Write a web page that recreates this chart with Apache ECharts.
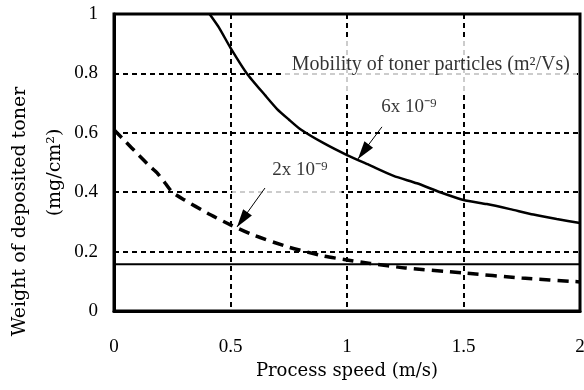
<!DOCTYPE html>
<html lang="en">
<head>
    <meta charset="UTF-8">
    <title>Toner deposition</title>
</head>
<body style="margin:0;background-color:#fff">

<div id="container" style="width:584px;height:390px"></div>

<script type="text/javascript" src="https://cdn.jsdelivr.net/npm/echarts@6/dist/echarts.min.js"></script>

<script type="text/javascript">
    // mobility 6x10^-9 (solid curve)
    var speed6 = [0.41, 0.45, 0.5, 0.57, 0.65, 0.7, 0.75, 0.8, 0.9, 1.0, 1.1, 1.2, 1.3, 1.4, 1.5, 1.6, 1.7, 1.8, 1.9, 2.0]
    var weight6 = [1.0, 0.955, 0.886, 0.80, 0.725, 0.68, 0.645, 0.612, 0.565, 0.525, 0.49, 0.455, 0.43, 0.40, 0.374, 0.36, 0.343, 0.325, 0.31, 0.296]
    // mobility 2x10^-9 (dashed curve)
    var speed2 = [0, 0.05, 0.1, 0.15, 0.185, 0.22, 0.25, 0.3, 0.4, 0.5, 0.6, 0.75, 0.9, 1.0, 1.1, 1.25, 1.5, 1.75, 2.0]
    var weight2 = [0.61, 0.57, 0.53, 0.49, 0.465, 0.43, 0.40, 0.375, 0.33, 0.29, 0.255, 0.215, 0.185, 0.172, 0.16, 0.145, 0.128, 0.111, 0.098]
    // horizontal reference level
    var levelSpeed = [0, 2]
    var levelWeight = [0.157, 0.157]

    var xTicks = [0, 0.5, 1, 1.5, 2]
    var yTicks = [0, 0.2, 0.4, 0.6, 0.8, 1]

    // annotation texts and where they sit (data space)
    var noteTexts = ['Mobility of toner particles (m²/Vs)', '6x 10⁻⁹', '2x 10⁻⁹']
    var notePos = [[1.36, 0.83], [1.266, 0.687], [0.742, 0.475]]
    var arrowFrom = [[1.15, 0.62], [0.648, 0.414]]
    var arrowTo = [[1.047, 0.512], [0.528, 0.283]]

    function zip(xs, ys) {
        return xs.map(function (x, i) { return [x, ys[i]] })
    }

    var font = '"Liberation Serif", "Times New Roman", serif'
    var titleFont = '"DejaVu Serif", serif'
    var gridDash = {color: '#000', width: 2, type: [5, 4]}
    // 细长实心三角箭头, 尖端在图形中心
    var arrowHead = 'path://M0,0 M40,40 M20,20 L26,40 L14,40 Z'

    var dom = document.getElementById("container");
    var myChart = echarts.init(dom);

    var option = {
        animation: false,
        grid: {
            left: 114,
            right: 4,
            top: 14,
            bottom: 79,
            outerBoundsMode: 'none',
            show: true,
            borderColor: '#000',
            borderWidth: 3
        },
        xAxis: {
            type: 'value',
            min: xTicks[0],
            max: xTicks[xTicks.length - 1],
            interval: 0.5,
            name: 'Process speed (m/s)',
            nameLocation: 'middle',
            nameGap: 48,
            nameTextStyle: {fontFamily: titleFont, fontSize: 18, color: '#000'},
            axisLine: {lineStyle: {color: '#000', width: 3}},
            axisTick: {show: false},
            axisLabel: {margin: 27, fontFamily: font, fontSize: 19, color: '#000'},
            splitLine: {lineStyle: gridDash}
        },
        yAxis: {
            type: 'value',
            min: yTicks[0],
            max: yTicks[yTicks.length - 1],
            interval: 0.2,
            name: '{a|Weight of deposited toner}\n{b|(mg/cm²)}',
            nameLocation: 'middle',
            nameRotate: 90,
            nameGap: 41,
            nameMoveOverlap: false,
            nameTextStyle: {
                fontFamily: titleFont, fontSize: 19, color: '#000', lineHeight: 35,
                padding: [0, 98, 0, 0],
                rich: {
                    a: {fontFamily: titleFont, fontSize: 19, color: '#000', lineHeight: 35},
                    b: {fontFamily: titleFont, fontSize: 19, color: '#000', lineHeight: 35, padding: [0, 0, 0, 78]}
                }
            },
            axisLine: {lineStyle: {color: '#000', width: 3}},
            axisTick: {show: false},
            axisLabel: {margin: 16, fontFamily: font, fontSize: 19, color: '#000'},
            splitLine: {lineStyle: gridDash}
        },
        series: [
            {
                name: '6x10-9',
                type: 'line',
                data: zip(speed6, weight6),
                smooth: 0.2,
                showSymbol: false,
                lineStyle: {color: '#000', width: 2.5},
                z: 4
            },
            {
                name: '2x10-9',
                type: 'line',
                data: zip(speed2, weight2),
                smooth: 0.2,
                showSymbol: false,
                lineStyle: {color: '#000', width: 3.5, type: [11, 7]},
                z: 4
            },
            {
                name: 'level',
                type: 'line',
                data: zip(levelSpeed, levelWeight),
                showSymbol: false,
                lineStyle: {color: '#000', width: 2},
                z: 4
            },
            { // 白底文字
                name: 'notes',
                type: 'scatter',
                symbolSize: 0,
                data: notePos.map(function (p, i) {
                    return {
                        value: p,
                        label: {
                            show: true,
                            position: 'inside',
                            formatter: noteTexts[i],
                            fontFamily: font,
                            fontSize: i === 0 ? 20 : 19,
                            color: '#000',
                            backgroundColor: '#fff',
                            padding: i === 0 ? [20, 7, 14, 7] : (i === 2 ? [20, 14, 18, 40] : [2, 2, 2, 2])
                        }
                    }
                }),
                z: 3
            },
            { // 箭头
                name: 'arrows',
                type: 'lines',
                coordinateSystem: 'cartesian2d',
                data: arrowFrom.map(function (p, i) {
                    return {coords: [p, arrowTo[i]]}
                }),
                symbol: ['none', arrowHead],
                symbolSize: [0, 36],
                lineStyle: {color: '#000', width: 1, opacity: 1},
                itemStyle: {color: '#000'},
                z: 5
            }
        ]
    }
    if (option && typeof option === 'object') {
        myChart.setOption(option);
    }
</script>
</body>
</html>
